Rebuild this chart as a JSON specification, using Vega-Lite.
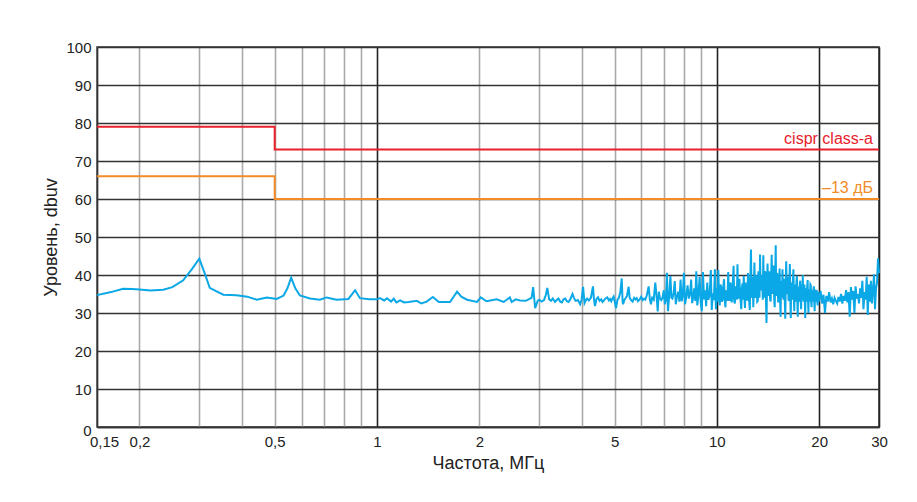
{
  "$schema": "https://vega.github.io/schema/vega-lite/v6.json",
  "width": 782,
  "height": 380,
  "autosize": "none",
  "padding": {"left": 97, "top": 47, "right": 38, "bottom": 75},
  "background": "white",
  "config": {
    "font": "Liberation Sans",
    "view": {"stroke": "#333", "strokeWidth": 1.5},
    "axis": {
      "labelFontSize": 15,
      "labelColor": "#222",
      "titleFontSize": 18,
      "titleColor": "#222",
      "titleFontWeight": "normal",
      "ticks": false,
      "domainColor": "#333",
      "domainWidth": 1.5
    }
  },
  "encoding": {
    "x": {
      "field": "f",
      "type": "quantitative",
      "scale": {"type": "log", "domain": [0.15, 30], "nice": false},
      "axis": {
        "values": [0.15, 0.2, 0.3, 0.4, 0.5, 0.6, 0.7, 0.8, 0.9, 1, 2, 3, 4, 5, 6, 7, 8, 9, 10, 20, 30],
        "labelExpr": "indexof([0.15,0.2,0.5,1,2,5,10,20,30], datum.value) >= 0 ? replace(format(datum.value, '~g'), '.', ',') : ''",
        "labelPadding": 7,
        "labelFlush": false,
        "labelOverlap": false,
        "labelOffset": {"condition": {"test": "datum.value==0.15", "value": 7}, "value": 0},
        "gridColor": {"condition": {"test": "datum.value==1||datum.value==10||datum.value==20||datum.value==30", "value": "#222"}, "value": "#aaaaaa"},
        "gridWidth": 1.6,
        "title": "Частота, МГц",
        "titlePadding": 5
      }
    },
    "y": {
      "field": "v",
      "type": "quantitative",
      "scale": {"domain": [0, 100], "nice": false},
      "axis": {
        "values": [0, 10, 20, 30, 40, 50, 60, 70, 80, 90, 100],
        "gridColor": "#333",
        "gridWidth": 1.6,
        "labelPadding": 6,
        "labelOffset": {"condition": {"test": "datum.value==0", "value": 3}, "value": 0},
        "title": "Уровень, dbuv",
        "titlePadding": 5
      }
    }
  },
  "layer": [
    {
      "data": {"values": [
        {"f":0.15,"v":34.7},{"f":0.165,"v":35.5},{"f":0.179,"v":36.4},{"f":0.19,"v":36.3},{"f":0.2,"v":36.2},{"f":0.215,"v":35.9},{"f":0.235,"v":36.1},{"f":0.25,"v":36.8},{"f":0.269,"v":38.6},{"f":0.285,"v":41.5},{"f":0.3,"v":44.3},{"f":0.311,"v":40.5},{"f":0.322,"v":36.6},{"f":0.335,"v":35.8},{"f":0.353,"v":34.8},{"f":0.386,"v":34.7},{"f":0.415,"v":34.3},{"f":0.443,"v":33.5},{"f":0.474,"v":34.1},{"f":0.507,"v":33.7},{"f":0.531,"v":34.6},{"f":0.545,"v":36.5},{"f":0.559,"v":39.3},{"f":0.575,"v":36.5},{"f":0.593,"v":34.6},{"f":0.635,"v":33.8},{"f":0.679,"v":33.5},{"f":0.711,"v":34.1},{"f":0.76,"v":33.5},{"f":0.824,"v":33.7},{"f":0.862,"v":36.0},{"f":0.891,"v":33.9},{"f":0.95,"v":33.6},{"f":1.0,"v":33.6},{"f":1.02,"v":33.9},{"f":1.05,"v":33.3},{"f":1.07,"v":33.9},{"f":1.1,"v":33.0},{"f":1.12,"v":33.8},{"f":1.14,"v":32.8},{"f":1.17,"v":33.3},{"f":1.2,"v":32.8},{"f":1.24,"v":32.9},{"f":1.31,"v":33.2},{"f":1.35,"v":32.5},{"f":1.4,"v":33.0},{"f":1.46,"v":34.2},{"f":1.52,"v":32.9},{"f":1.64,"v":32.9},{"f":1.72,"v":35.6},{"f":1.77,"v":34.3},{"f":1.84,"v":33.5},{"f":1.97,"v":32.9},{"f":2.02,"v":34.1},{"f":2.1,"v":33.1},{"f":2.25,"v":33.6},{"f":2.36,"v":32.9},{"f":2.46,"v":34.1},{"f":2.49,"v":32.9},{"f":2.56,"v":33.6},{"f":2.64,"v":33.3},{"f":2.74,"v":33.2},{"f":2.85,"v":34.0},{"f":2.88,"v":36.8},{"f":2.92,"v":31.3},{"f":2.97,"v":33.2},
        {"f":3.0,"v":33.5},{"f":3.05,"v":33.0},{"f":3.1,"v":33.4},{"f":3.14,"v":34.8},{"f":3.17,"v":36.6},{"f":3.21,"v":33.6},{"f":3.25,"v":33.2},{"f":3.29,"v":33.8},{"f":3.34,"v":32.9},{"f":3.38,"v":33.4},{"f":3.42,"v":33.8},{"f":3.46,"v":33.0},{"f":3.5,"v":32.8},{"f":3.54,"v":33.6},{"f":3.58,"v":33.8},{"f":3.62,"v":33.1},{"f":3.66,"v":32.9},{"f":3.7,"v":33.5},{"f":3.76,"v":35.0},{"f":3.8,"v":33.9},{"f":3.84,"v":33.2},{"f":3.9,"v":33.4},{"f":3.96,"v":32.3},{"f":4.0,"v":33.5},{"f":4.04,"v":36.9},{"f":4.08,"v":32.6},{"f":4.12,"v":33.4},{"f":4.15,"v":33.8},{"f":4.2,"v":33.3},{"f":4.26,"v":34.0},{"f":4.32,"v":37.0},{"f":4.35,"v":33.5},{"f":4.38,"v":31.8},{"f":4.42,"v":33.6},{"f":4.47,"v":34.1},{"f":4.52,"v":33.2},{"f":4.57,"v":33.6},{"f":4.61,"v":32.9},{"f":4.66,"v":33.4},{"f":4.71,"v":33.9},{"f":4.76,"v":34.1},{"f":4.81,"v":33.3},{"f":4.85,"v":33.7},{"f":4.89,"v":33.1},{"f":4.93,"v":33.8},{"f":4.97,"v":34.3},{"f":5.01,"v":32.9},{"f":5.05,"v":31.3},{"f":5.1,"v":33.5},{"f":5.15,"v":34.0},{"f":5.2,"v":35.5},{"f":5.25,"v":39.1},{"f":5.28,"v":33.0},{"f":5.3,"v":32.3},{"f":5.34,"v":33.4},{"f":5.38,"v":33.8},{"f":5.44,"v":34.5},{"f":5.5,"v":36.9},{"f":5.54,"v":34.0},{"f":5.59,"v":33.4},{"f":5.65,"v":33.0},{"f":5.71,"v":34.0},{"f":5.76,"v":33.6},{"f":5.81,"v":33.9},{"f":5.86,"v":33.1},{"f":5.92,"v":33.5},{"f":5.99,"v":34.3},
        {"f":6.05,"v":33.4},{"f":6.1,"v":33.8},{"f":6.16,"v":33.5},{"f":6.22,"v":34.6},{"f":6.3,"v":37.0},{"f":6.35,"v":33.6},{"f":6.4,"v":32.3},{"f":6.45,"v":34.0},{"f":6.52,"v":33.5},{"f":6.59,"v":38.0},{"f":6.65,"v":34.2},{"f":6.7,"v":30.4},{"f":6.75,"v":35.6},{"f":6.8,"v":33.9},{"f":6.86,"v":33.4},{"f":6.92,"v":34.0},{"f":6.98,"v":36.0},{"f":7.03,"v":32.3},{"f":7.08,"v":33.5},{"f":7.13,"v":40.6},{"f":7.18,"v":30.5},{"f":7.24,"v":34.4},{"f":7.3,"v":39.7},{"f":7.35,"v":34.0},{"f":7.4,"v":33.8},{"f":7.46,"v":35.2},{"f":7.52,"v":38.4},{"f":7.57,"v":32.3},{"f":7.63,"v":34.2},{"f":7.7,"v":35.6},{"f":7.76,"v":33.0},{"f":7.82,"v":38.8},{"f":7.88,"v":33.1},{"f":7.94,"v":34.5},{"f":8.0,"v":40.6},{"f":8.06,"v":32.3},{"f":8.12,"v":34.0},{"f":8.2,"v":37.3},{"f":8.27,"v":33.8},{"f":8.34,"v":35.0},{"f":8.4,"v":38.8},{"f":8.46,"v":32.6},{"f":8.52,"v":34.2},{"f":8.58,"v":36.5},{"f":8.64,"v":33.2},{"f":8.7,"v":41.0},{"f":8.76,"v":32.0},{"f":8.82,"v":34.5},{"f":8.9,"v":39.5},{"f":8.96,"v":33.0},{"f":9.03,"v":30.5},{"f":9.1,"v":40.8},{"f":9.17,"v":33.6},{"f":9.24,"v":36.0},{"f":9.3,"v":31.8},{"f":9.37,"v":38.0},{"f":9.44,"v":33.5},{"f":9.52,"v":34.6},{"f":9.6,"v":41.3},{"f":9.66,"v":30.8},{"f":9.73,"v":35.2},{"f":9.8,"v":33.4},{"f":9.87,"v":41.5},{"f":9.94,"v":31.0},
        {"f":10.0,"v":36.5},{"f":10.05,"v":33.0},{"f":10.1,"v":41.3},{"f":10.15,"v":34.0},{"f":10.2,"v":32.0},{"f":10.25,"v":37.5},{"f":10.3,"v":36.8},{"f":10.35,"v":33.0},{"f":10.4,"v":33.5},{"f":10.45,"v":37.0},{"f":10.5,"v":38.9},{"f":10.55,"v":33.5},{"f":10.6,"v":31.5},{"f":10.65,"v":36.0},{"f":10.7,"v":35.0},{"f":10.75,"v":33.2},{"f":10.8,"v":40.8},{"f":10.85,"v":34.5},{"f":10.9,"v":33.2},{"f":10.95,"v":38.0},
        {"f":11.0,"v":37.5},{"f":11.05,"v":32.8},{"f":11.1,"v":34.0},{"f":11.15,"v":38.5},{"f":11.2,"v":42.4},{"f":11.25,"v":33.0},{"f":11.3,"v":32.5},{"f":11.35,"v":37.0},{"f":11.4,"v":36.0},{"f":11.45,"v":33.5},{"f":11.5,"v":42.8},{"f":11.55,"v":35.0},{"f":11.6,"v":33.8},{"f":11.65,"v":39.0},{"f":11.7,"v":35.5},{"f":11.75,"v":33.0},{"f":11.8,"v":31.0},{"f":11.85,"v":36.5},{"f":11.9,"v":37.8},{"f":11.95,"v":33.5},
        {"f":12.0,"v":39.8},{"f":12.05,"v":34.0},{"f":12.1,"v":31.3},{"f":12.15,"v":38.0},{"f":12.2,"v":35.2},{"f":12.25,"v":33.5},{"f":12.3,"v":33.5},{"f":12.35,"v":40.5},{"f":12.4,"v":38.0},{"f":12.45,"v":33.0},{"f":12.5,"v":30.8},{"f":12.55,"v":39.0},{"f":12.6,"v":46.7},{"f":12.65,"v":35.0},{"f":12.7,"v":34.0},{"f":12.75,"v":39.5},{"f":12.8,"v":31.5},{"f":12.85,"v":37.0},{"f":12.9,"v":43.3},{"f":12.95,"v":34.0},
        {"f":13.0,"v":35.0},{"f":13.05,"v":40.0},{"f":13.1,"v":37.8},{"f":13.15,"v":33.0},{"f":13.2,"v":33.2},{"f":13.25,"v":41.0},{"f":13.3,"v":39.5},{"f":13.35,"v":34.0},{"f":13.4,"v":45.4},{"f":13.45,"v":36.5},{"f":13.5,"v":36.0},{"f":13.55,"v":40.0},{"f":13.6,"v":38.5},{"f":13.65,"v":33.5},{"f":13.7,"v":45.2},{"f":13.75,"v":36.0},{"f":13.8,"v":34.0},{"f":13.85,"v":41.0},{"f":13.9,"v":40.5},{"f":13.95,"v":33.0},
        {"f":14.0,"v":27.4},{"f":14.05,"v":38.0},{"f":14.1,"v":43.0},{"f":14.15,"v":34.5},{"f":14.2,"v":35.5},{"f":14.25,"v":41.0},{"f":14.3,"v":38.0},{"f":14.35,"v":33.5},{"f":14.4,"v":33.0},{"f":14.45,"v":40.0},{"f":14.5,"v":45.3},{"f":14.55,"v":35.0},{"f":14.6,"v":36.5},{"f":14.65,"v":40.5},{"f":14.7,"v":42.5},{"f":14.75,"v":33.5},{"f":14.8,"v":31.5},{"f":14.85,"v":39.0},{"f":14.9,"v":47.8},{"f":14.95,"v":35.5},
        {"f":15.0,"v":34.5},{"f":15.05,"v":40.5},{"f":15.1,"v":38.0},{"f":15.15,"v":33.0},{"f":15.2,"v":33.0},{"f":15.25,"v":39.0},{"f":15.3,"v":41.7},{"f":15.35,"v":34.0},{"f":15.4,"v":29.0},{"f":15.45,"v":38.5},{"f":15.5,"v":37.5},{"f":15.55,"v":34.0},{"f":15.6,"v":41.5},{"f":15.65,"v":35.5},{"f":15.7,"v":33.5},{"f":15.75,"v":39.0},{"f":15.8,"v":36.8},{"f":15.85,"v":33.0},{"f":15.9,"v":28.5},{"f":15.95,"v":38.0},
        {"f":16.0,"v":43.6},{"f":16.05,"v":35.5},{"f":16.1,"v":35.0},{"f":16.15,"v":39.5},{"f":16.2,"v":39.0},{"f":16.25,"v":33.5},{"f":16.3,"v":33.2},{"f":16.35,"v":38.5},{"f":16.4,"v":42.9},{"f":16.45,"v":34.0},{"f":16.5,"v":28.7},{"f":16.55,"v":38.0},{"f":16.6,"v":37.0},{"f":16.65,"v":33.5},{"f":16.7,"v":34.5},{"f":16.75,"v":39.0},{"f":16.8,"v":41.5},{"f":16.85,"v":34.0},{"f":16.9,"v":30.5},{"f":16.95,"v":37.5},
        {"f":17.0,"v":37.2},{"f":17.05,"v":33.0},{"f":17.1,"v":34.0},{"f":17.15,"v":38.5},{"f":17.2,"v":39.8},{"f":17.25,"v":33.5},{"f":17.3,"v":29.0},{"f":17.35,"v":37.0},{"f":17.4,"v":36.5},{"f":17.45,"v":33.0},{"f":17.5,"v":33.5},{"f":17.55,"v":38.0},{"f":17.6,"v":38.5},{"f":17.65,"v":33.0},{"f":17.7,"v":31.0},{"f":17.75,"v":37.5},{"f":17.8,"v":36.0},{"f":17.85,"v":33.5},{"f":17.9,"v":40.0},{"f":17.95,"v":34.5},
        {"f":18.0,"v":33.0},{"f":18.05,"v":37.0},{"f":18.1,"v":37.5},{"f":18.15,"v":33.0},{"f":18.2,"v":28.7},{"f":18.25,"v":36.5},{"f":18.3,"v":35.8},{"f":18.35,"v":33.0},{"f":18.4,"v":33.5},{"f":18.45,"v":37.0},{"f":18.5,"v":38.7},{"f":18.55,"v":33.5},{"f":18.6,"v":30.0},{"f":18.65,"v":36.0},{"f":18.7,"v":36.0},{"f":18.75,"v":33.0},{"f":18.8,"v":34.5},{"f":18.85,"v":37.5},{"f":18.9,"v":37.3},{"f":18.95,"v":33.0},
        {"f":19.0,"v":31.5},{"f":19.05,"v":36.0},{"f":19.1,"v":35.5},{"f":19.15,"v":33.0},{"f":19.2,"v":33.8},{"f":19.25,"v":36.5},{"f":19.3,"v":37.0},{"f":19.35,"v":33.0},{"f":19.4,"v":30.5},{"f":19.45,"v":35.5},{"f":19.5,"v":36.2},{"f":19.55,"v":33.0},{"f":19.6,"v":34.0},{"f":19.65,"v":36.0},{"f":19.7,"v":35.5},{"f":19.75,"v":33.0},{"f":19.8,"v":32.0},{"f":19.85,"v":35.5},{"f":19.9,"v":34.8},{"f":19.95,"v":33.0},{"f":20.0,"v":33.5},
        {"f":20.2,"v":35.8},{"f":20.4,"v":32.5},{"f":20.6,"v":34.8},{"f":20.8,"v":30.0},{"f":21.0,"v":34.5},{"f":21.2,"v":33.0},{"f":21.4,"v":35.5},{"f":21.6,"v":32.8},{"f":21.8,"v":33.8},{"f":22.0,"v":32.3},{"f":22.2,"v":34.0},{"f":22.4,"v":33.2},{"f":22.6,"v":32.5},{"f":22.8,"v":34.2},{"f":23.0,"v":33.0},{"f":23.2,"v":35.0},{"f":23.4,"v":32.5},{"f":23.6,"v":34.5},{"f":23.8,"v":33.2},{"f":24.0,"v":36.0},{"f":24.2,"v":32.8},{"f":24.4,"v":35.5},{"f":24.6,"v":29.0},{"f":24.8,"v":36.8},{"f":25.0,"v":33.5},{"f":25.2,"v":35.8},{"f":25.4,"v":30.0},{"f":25.6,"v":37.0},{"f":25.8,"v":33.8},{"f":26.0,"v":35.0},{"f":26.2,"v":32.5},{"f":26.4,"v":36.5},{"f":26.6,"v":34.0},{"f":26.8,"v":38.5},{"f":27.0,"v":31.0},{"f":27.2,"v":35.5},{"f":27.4,"v":33.5},{"f":27.6,"v":39.5},{"f":27.8,"v":29.5},{"f":28.0,"v":37.5},{"f":28.2,"v":33.0},{"f":28.4,"v":38.5},{"f":28.6,"v":32.5},{"f":28.8,"v":36.0},{"f":29.0,"v":40.2},{"f":29.2,"v":31.0},{"f":29.4,"v":36.5},{"f":29.6,"v":38.0},{"f":29.8,"v":44.4},{"f":30.0,"v":40.5}
      ]},
      "mark": {"type": "line", "color": "#0aa8e6", "strokeWidth": 2, "strokeJoin": "miter"}
    },
    {
      "data": {"values": [
        {"s":"cispr","i":0,"f":0.15,"v":79},{"s":"cispr","i":1,"f":0.5,"v":79},{"s":"cispr","i":2,"f":0.5,"v":73},{"s":"cispr","i":3,"f":30,"v":73},
        {"s":"m13","i":0,"f":0.15,"v":66},{"s":"m13","i":1,"f":0.5,"v":66},{"s":"m13","i":2,"f":0.5,"v":60},{"s":"m13","i":3,"f":30,"v":60}
      ]},
      "mark": {"type": "line", "strokeWidth": 2},
      "encoding": {
        "order": {"field": "i", "type": "quantitative"},
        "color": {"field": "s", "type": "nominal", "scale": {"domain": ["cispr", "m13"], "range": ["#e8212b", "#f28c28"]}, "legend": null}
      }
    },
    {
      "data": {"values": [
        {"s":"cispr","f":30,"v":73,"t":"cispr class-a"},
        {"s":"m13","f":30,"v":60,"t":"–13 дБ"}
      ]},
      "mark": {"type": "text", "align": "right", "baseline": "middle", "dx": -6, "dy": -11, "fontSize": 16},
      "encoding": {
        "text": {"field": "t"},
        "color": {"field": "s", "type": "nominal", "scale": {"domain": ["cispr", "m13"], "range": ["#e8212b", "#f28c28"]}, "legend": null}
      }
    }
  ]
}
